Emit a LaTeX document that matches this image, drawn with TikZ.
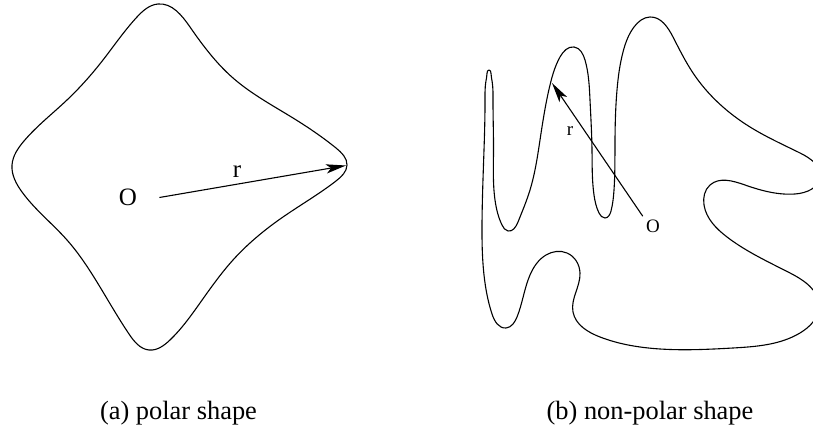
\documentclass[tikz,border=0pt]{standalone}
\usepackage{fontspec}
\setmainfont{Liberation Serif}
\usetikzlibrary{arrows.meta,positioning,hobby}
\tikzset{
  shapeline/.style={draw=black, line width=0.55pt, line join=round},
  ray/.style={draw=black, line width=0.55pt, -{Stealth[length=10pt, width=4.6pt, inset=2.4pt]}},
  biglabel/.style={font=\fontsize{12.5}{14}\selectfont, inner sep=0pt},
  smalllabel/.style={font=\fontsize{9.5}{11}\selectfont, inner sep=1.5pt},
  caption/.style={font=\fontsize{13.2}{15}\selectfont, inner sep=0pt, anchor=base},
}

\begin{document}
\begin{tikzpicture}[x=0.5pt, y=-0.5pt]
  \useasboundingbox (0,0) rectangle (813,431);

  % (a) polar shape
  \draw[shapeline, use Hobby shortcut, closed=true]
    (158,4) .. (190,27) .. (233,78) .. (293,118) .. (336,148) .. (347,165)
    .. (336,181) .. (283,217) .. (233,260) .. (200,303) .. (170,340)
    .. (149,350) .. (129,334) .. (100,287) .. (67,240) .. (22,192)
    .. (12,165) .. (24,141) .. (67,100) .. (103,60) .. (137,17);
  \node[biglabel] (Oa) at (128,197.5) {O};
  \coordinate (tipA) at (346,165.5);
  \draw[ray] ([xshift=11pt]Oa.east) -- (tipA);
  \node[biglabel] (ra) at (237,172) {r};

  % (b) non-polar shape
  \draw[shapeline, use Hobby shortcut, closed=true]
    (650,17) .. (673,37) .. (693,73) .. (750,127) .. (800,153) .. (820,177)
    .. (795,194) .. (745,185) .. (710,185) .. (704,205) .. (727,237)
    .. (790,273) .. (819,306) .. (800,333) .. (733,348) .. (660,349)
    .. (600,337) .. (573,312) .. (580,273) .. (567,253) .. (546,255)
    .. (530,275) .. (517,317) .. (506,328) .. (492,314) .. (484,275)
    .. (482,225) .. (484,150) .. (485,100) .. (485.8,82) .. (487,73.5)
    .. (489,70) .. (491,73.5) .. (492.2,82) .. (493,100) .. (493.5,150)
    .. (495,200) .. (502,225) .. (508,231) .. (518,222) .. (530,190)
    .. (540,140) .. (550,85) .. (560,57) .. (574,47) .. (585,60)
    .. (590,100) .. (592,150) .. (594,195) .. (599,213) .. (605,218)
    .. (611,211) .. (614,190) .. (615,140) .. (617,90) .. (623,52)
    .. (634,27);
  \node[smalllabel] (Ob) at (653,226) {O};
  \coordinate (tipB) at (552,83);
  \draw[ray] (Ob.north west) -- (tipB);
  \node[smalllabel] (rb) at (570,131) {r};

  % captions
  \node[caption] (capA) at (178.5,420) {(a) polar shape};
  \node[caption] (capB) at (650,420) {(b) non-polar shape};
\end{tikzpicture}
\end{document}
